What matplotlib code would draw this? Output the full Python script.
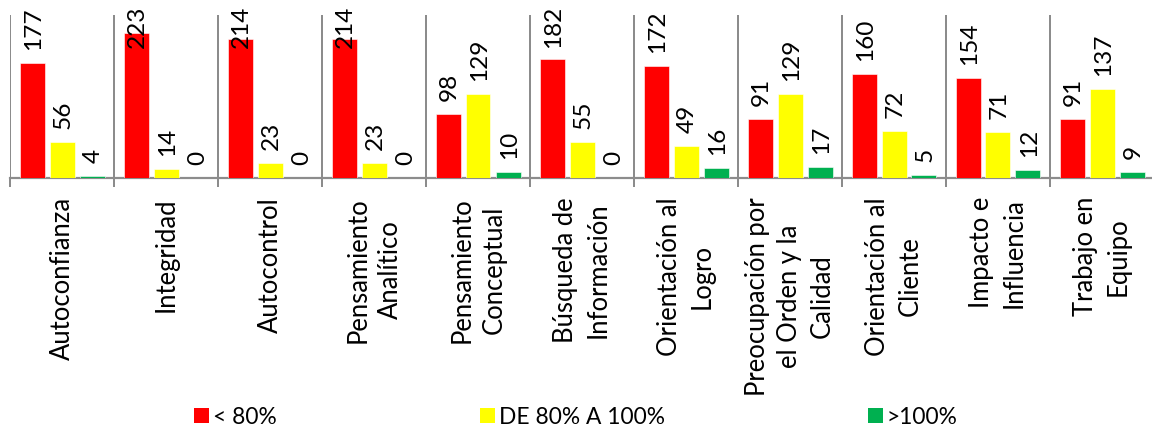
import matplotlib
matplotlib.use('Agg')
import matplotlib.pyplot as plt
from matplotlib import transforms
from matplotlib.patches import Rectangle
import numpy as np

# ---------------- data ----------------
categories = [
    "Autoconfianza",
    "Integridad",
    "Autocontrol",
    "Pensamiento\nAnalítico",
    "Pensamiento\nConceptual",
    "Búsqueda de\nInformación",
    "Orientación al\nLogro",
    "Preocupación por\nel Orden y la\nCalidad",
    "Orientación al\nCliente",
    "Impacto e\nInfluencia",
    "Trabajo en\nEquipo",
]
below_80 = [177, 223, 214, 214, 98, 182, 172, 91, 160, 154, 91]
between_80_100 = [56, 14, 23, 23, 129, 55, 49, 129, 72, 71, 137]
above_100 = [4, 0, 0, 0, 10, 0, 16, 17, 5, 12, 9]
series_names = ["< 80%", "DE 80% A 100%", ">100%"]
series_colors = ["#FF0000", "#FFFF00", "#00B050"]
y_max = 250

# ---------------- figure ----------------
W, H = 1152, 427
DPI = 100
FONT = ["Lato", "DejaVu Sans"]
plt.rcParams['font.family'] = FONT

fig = plt.figure(figsize=(W / DPI, H / DPI), dpi=DPI)
renderer = fig.canvas.get_renderer()

def px(p):  # pixels -> points
    return p * 72.0 / DPI

def fit_size(s, target_px, ref=20):
    t = fig.text(0, 0, s, fontsize=ref)
    w = t.get_window_extent(renderer).width
    t.remove()
    return ref * target_px / w

val_size = fit_size("177", 42.5)
cat_size = fit_size("Autoconfianza", 163)
leg_size = fit_size("DE 80% A 100%", 166)

# line spacing for category labels
t1 = fig.text(0, 0, "Ag", fontsize=cat_size, linespacing=1.0)
t2 = fig.text(0, 0, "Ag\nAg", fontsize=cat_size, linespacing=1.0)
step1 = t2.get_window_extent(renderer).height - t1.get_window_extent(renderer).height
t1.remove(); t2.remove()
cat_linespacing = 34.5 / step1

axis_y = 179.3
top_y = 16
left_x = 10
cat_w = 104
ax = fig.add_axes([left_x / W, 1 - axis_y / H, (cat_w * len(categories)) / W, (axis_y - top_y) / H])

n = len(categories)
x = np.arange(n)
ax.set_xlim(-0.5, n - 0.5)
ax.set_ylim(0, y_max)

grid_col = "#8C8C8C"
bounds = np.arange(-0.5, n, 1.0)
ax.set_xticks(bounds)
ax.set_xticklabels([""] * len(bounds))
ax.tick_params(axis='x', direction='out', length=px(9), width=px(2), color=grid_col)
ax.set_yticks([])
for side in ['top', 'right', 'left']:
    ax.spines[side].set_visible(False)
ax.spines['bottom'].set_color(grid_col)
ax.spines['bottom'].set_linewidth(px(2.2))
ax.grid(axis='x', color=grid_col, linewidth=px(2))
ax.set_axisbelow(True)

bar_w = 25 / cat_w
step = 30 / cat_w
offsets = [-step, 0, step]
all_series = [below_80, between_80_100, above_100]

for vals, col, off, name in zip(all_series, series_colors, offsets, series_names):
    ax.bar(x + off, vals, width=bar_w, color=col, edgecolor='white', linewidth=0.4, zorder=3, label=name)

fig.canvas.draw()

# value labels
tr = transforms.blended_transform_factory(ax.transData, fig.transFigure)
for vals, off in zip(all_series, offsets):
    for i, v in enumerate(vals):
        xc = i + off
        top_disp = ax.transData.transform((xc, v))[1]
        y0 = top_disp + 14
        t = ax.text(xc + 1.5 / cat_w, y0 / H, str(v), transform=tr, rotation=90, ha='center', va='bottom',
                    fontsize=val_size, color='black', clip_on=False)
        ext = t.get_window_extent(renderer)
        if ext.y1 > H - 6:
            t.set_y((H - 6) / H)
            t.set_va('top')

# category labels
for i, c in enumerate(categories):
    ax.text(i, 1 - 197 / H, c, transform=tr, rotation=90, ha='center', va='top',
            multialignment='center', fontsize=cat_size, linespacing=cat_linespacing,
            color='black', clip_on=False)

# legend
fpx = leg_size * DPI / 72.0
handles = [Rectangle((0, 0), 1, 1, facecolor=c, edgecolor='none') for c in series_colors]
fig.legend(handles, series_names, loc='center', bbox_to_anchor=(0.5, 1 - 418 / H),
           ncol=3, frameon=False, fontsize=leg_size, handlelength=15 / fpx,
           handleheight=14 / fpx, handletextpad=4 / fpx, columnspacing=203 / fpx,
           borderpad=0, borderaxespad=0)

fig.savefig("out.png", dpi=DPI)
